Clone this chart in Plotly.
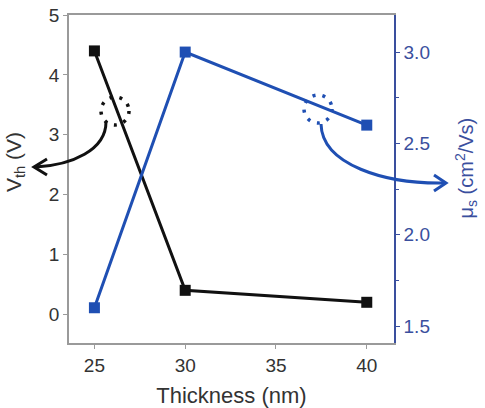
import plotly.graph_objects as go

thickness = [25, 30, 40]
vth = [4.4, 0.4, 0.2]
mobility = [1.6, 3.0, 2.6]

x_ticks = [25, 30, 35, 40]
y_ticks = [0, 1, 2, 3, 4, 5]
y2_ticks = [1.5, 2.0, 2.5, 3.0]

BLACK = "#111111"
BLUE = "#1f4fb3"
BLUE_TXT = "#3a4f9e"
GREY = "#9a9a9a"
FONT = "Liberation Sans, Arial, sans-serif"

W, H = 485, 408
L, R, T, B = 69, 91, 15, 65
PW, PH = W - L - R, H - T - B


def px(x):
    return (x - L) / PW


def py(y):
    return (H - B - y) / PH


def path(points, cmd):
    return cmd.format(*[f"{px(a):.4f} {py(b):.4f}" for a, b in points])


fig = go.Figure()
fig.add_trace(go.Scatter(x=thickness, y=vth, mode="lines+markers",
                         line=dict(color=BLACK, width=3),
                         marker=dict(symbol="square", size=11, color=BLACK),
                         showlegend=False))
fig.add_trace(go.Scatter(x=thickness, y=mobility, mode="lines+markers", yaxis="y2",
                         line=dict(color=BLUE, width=3),
                         marker=dict(symbol="square", size=11, color=BLUE),
                         showlegend=False))

shapes = []
# dotted circles
for cx, cy, col in [(115, 111, BLACK), (318, 109, BLUE)]:
    shapes.append(dict(type="circle", xref="paper", yref="paper",
                       x0=px(cx - 14), x1=px(cx + 14), y0=py(cy + 14), y1=py(cy - 14),
                       line=dict(color=col, width=3.5, dash="3px,7px"), layer="above"))
# curved arrows
shapes.append(dict(type="path", xref="paper", yref="paper", layer="above",
                   path=path([(106, 122), (106, 150), (72, 165), (36, 167)], "M {} C {} {} {}"),
                   line=dict(color=BLACK, width=3)))
shapes.append(dict(type="path", xref="paper", yref="paper", layer="above",
                   path=path([(47, 159), (34, 167), (47, 175)], "M {} L {} L {}"),
                   line=dict(color=BLACK, width=3)))
shapes.append(dict(type="path", xref="paper", yref="paper", layer="above",
                   path=path([(321, 124), (322, 165), (385, 184), (444, 183)], "M {} C {} {} {}"),
                   line=dict(color=BLUE, width=3)))
shapes.append(dict(type="path", xref="paper", yref="paper", layer="above",
                   path=path([(434, 175), (446, 183), (434, 191)], "M {} L {} L {}"),
                   line=dict(color=BLUE, width=3)))

annotations = [
    dict(text="V<sub>th</sub> (V)", xref="paper", yref="paper", x=px(0), y=py(162),
         xanchor="left", showarrow=False, textangle=-90,
         font=dict(size=21, color="#333333", family=FONT)),
    dict(text="μ<sub>s</sub> (cm<sup>2</sup>/Vs)", xref="paper", yref="paper", x=px(482), y=py(168),
         showarrow=False, textangle=-90, font=dict(size=20, color=BLUE_TXT, family=FONT)),
]

fig.update_layout(
    width=W, height=H,
    margin=dict(l=L, r=R, t=T, b=B),
    paper_bgcolor="white", plot_bgcolor="white",
    font=dict(family=FONT, size=19, color="#333333"),
    shapes=shapes, annotations=annotations,
    xaxis=dict(range=[23.6, 41.5], tickvals=x_ticks, ticks="outside", ticklen=4,
               tickcolor=GREY, showline=True, linecolor=GREY, linewidth=1.5, mirror=True,
               showgrid=False, zeroline=False, automargin=False,
               title=dict(text="Thickness (nm)", font=dict(size=22), standoff=14)),
    yaxis=dict(range=[-0.48, 5.0], tickvals=y_ticks, ticks="outside", ticklen=4,
               tickcolor=GREY, showline=True, linecolor=GREY, linewidth=1.5,
               showgrid=False, zeroline=False, automargin=False),
    yaxis2=dict(range=[1.407, 3.203], tickvals=y2_ticks, tickformat=".1f", overlaying="y",
                side="right", ticks="outside", ticklen=4, tickcolor=BLUE_TXT,
                showline=True, linecolor=BLUE_TXT, linewidth=1.5, showgrid=False,
                zeroline=False, tickfont=dict(color=BLUE_TXT), automargin=False,
                minor=dict(tickvals=[1.75, 2.25, 2.75], ticks="outside", ticklen=3,
                           tickcolor=BLUE_TXT)),
)

fig.write_html("out.html")
